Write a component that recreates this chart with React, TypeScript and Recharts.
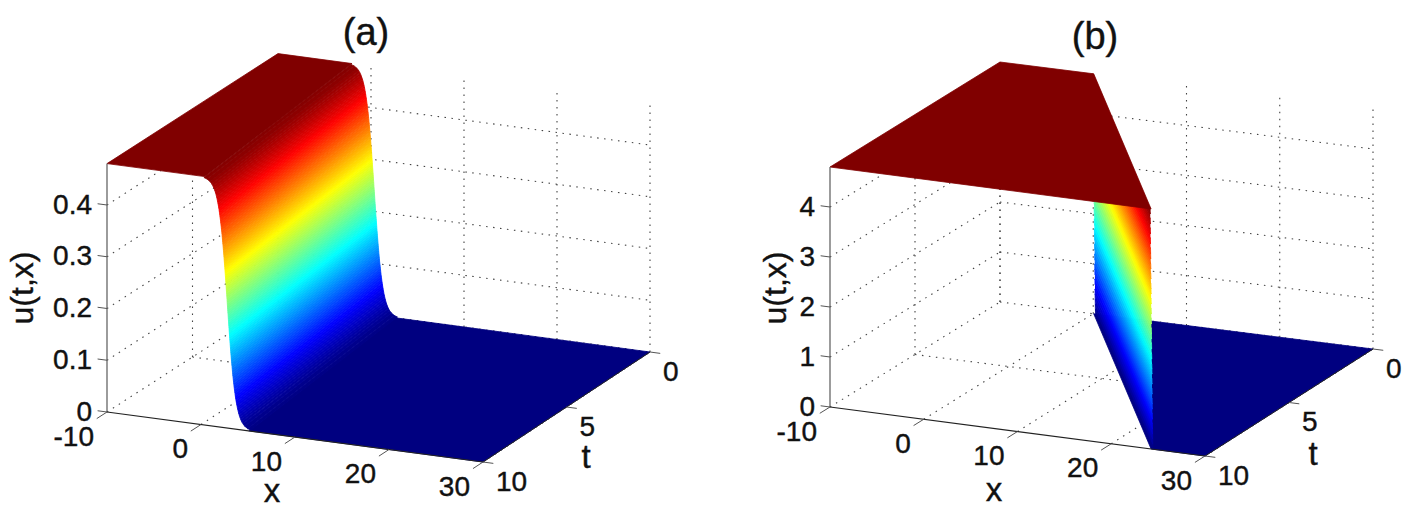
import { ComposedChart, Area, Line, XAxis, YAxis } from 'recharts';

// Tick values shared by both panels
const xTicks = [-10, 0, 10, 20, 30];
const tTicks = [0, 5, 10];

// Panel (a): smooth travelling front
const uTicksA = [0, 0.1, 0.2, 0.3, 0.4];
const frontOffsetA = [
  -2.49, -2.17, -1.85, -1.665, -1.53, -1.425, -1.34, -1.264, -1.2, -1.142, -1.09, -1.042, -1.0, -0.958, -0.92, -0.885,
  -0.85, -0.819, -0.79, -0.759, -0.73, -0.705, -0.68, -0.654, -0.63, -0.607, -0.58, -0.562, -0.54, -0.52, -0.5, -0.479,
  -0.46, -0.441, -0.42, -0.403, -0.385, -0.367, -0.35, -0.332, -0.315, -0.298, -0.28, -0.265, -0.25, -0.232, -0.216, -0.2,
  -0.184, -0.169, -0.153, -0.137, -0.122, -0.107, -0.091, -0.076, -0.06, -0.045, -0.03, -0.015, 0,
  0.015, 0.03, 0.045, 0.06, 0.076, 0.091, 0.107, 0.122, 0.137, 0.153, 0.169, 0.184, 0.2, 0.216, 0.232, 0.25,
  0.265, 0.28, 0.298, 0.315, 0.332, 0.35, 0.367, 0.385, 0.403, 0.42, 0.441, 0.46, 0.479, 0.5, 0.52, 0.54,
  0.562, 0.58, 0.607, 0.63, 0.654, 0.68, 0.705, 0.73, 0.759, 0.79, 0.819, 0.85, 0.885, 0.92, 0.958, 1.0,
  1.042, 1.09, 1.142, 1.2, 1.264, 1.34, 1.425, 1.53, 1.665, 1.85, 2.17, 2.49,
];
const frontValueA = [
  0.478, 0.476, 0.472, 0.468, 0.464, 0.46, 0.456, 0.452, 0.448, 0.444, 0.44, 0.436, 0.432, 0.428, 0.424, 0.42,
  0.416, 0.412, 0.408, 0.404, 0.4, 0.396, 0.392, 0.388, 0.384, 0.38, 0.376, 0.372, 0.368, 0.364, 0.36, 0.356,
  0.352, 0.348, 0.344, 0.34, 0.336, 0.332, 0.328, 0.324, 0.32, 0.316, 0.312, 0.308, 0.304, 0.3, 0.296, 0.292,
  0.288, 0.284, 0.28, 0.276, 0.272, 0.268, 0.264, 0.26, 0.256, 0.252, 0.248, 0.244, 0.24,
  0.236, 0.232, 0.228, 0.224, 0.22, 0.216, 0.212, 0.208, 0.204, 0.2, 0.196, 0.192, 0.188, 0.184, 0.18, 0.176,
  0.172, 0.168, 0.164, 0.16, 0.156, 0.152, 0.148, 0.144, 0.14, 0.136, 0.132, 0.128, 0.124, 0.12, 0.116, 0.112,
  0.108, 0.104, 0.1, 0.096, 0.092, 0.088, 0.084, 0.08, 0.076, 0.072, 0.068, 0.064, 0.06, 0.056, 0.052, 0.048,
  0.044, 0.04, 0.036, 0.032, 0.028, 0.024, 0.02, 0.016, 0.012, 0.008, 0.004, 0.002,
];

// Panel (b): sharp shock, the sheet is almost flat in x
const uTicksB = [0, 1, 2, 3, 4];
const frontOffsetB = [
  -0.1, -0.09, -0.09, -0.08, -0.08, -0.07, -0.07, -0.06, -0.06, -0.05, -0.04, -0.04, -0.03, -0.03, -0.02, -0.02, -0.01,
  0, 0, 0.01, 0.01, 0.02, 0.02, 0.03, 0.03, 0.04, 0.05, 0.05, 0.06, 0.06, 0.07, 0.07, 0.08, 0.09, 0.09,
  0.1, 0.1, 0.11, 0.11, 0.12, 0.13, 0.13, 0.14, 0.14, 0.15, 0.16, 0.17, 0.18, 0.2,
];
const frontValueB = [
  4.8, 4.7, 4.6, 4.5, 4.4, 4.3, 4.2, 4.1, 4.0, 3.9, 3.8, 3.7, 3.6, 3.5, 3.4, 3.3, 3.2,
  3.1, 3.0, 2.9, 2.8, 2.7, 2.6, 2.5, 2.4, 2.3, 2.2, 2.1, 2.0, 1.9, 1.8, 1.7, 1.6, 1.5, 1.4,
  1.3, 1.2, 1.1, 1.0, 0.9, 0.8, 0.7, 0.6, 0.5, 0.4, 0.3, 0.2, 0.1, 0,
];

const FONT = '"Liberation Sans", Arial, sans-serif';

// MATLAB jet colormap
const jet = (v: number) => {
  const clip = (n: number) => Math.round(255 * Math.max(0, Math.min(1, n)));
  const r = clip(Math.min(4 * v - 1.5, -4 * v + 4.5));
  const g = clip(Math.min(4 * v - 0.5, -4 * v + 3.5));
  const b = clip(Math.min(4 * v + 0.5, -4 * v + 2.5));
  return `rgb(${r},${g},${b})`;
};

// turns a convex polygon into the px / [low, high] rows an Area wants
const toRange = (poly: { px: number; py: number }[]) => {
  const xs = [...new Set(poly.map((p) => p.px))].sort((a, b) => a - b);
  return xs.map((px) => {
    const ys: number[] = [];
    poly.forEach((p, i) => {
      const q = poly[(i + 1) % poly.length];
      const lo = Math.min(p.px, q.px);
      const hi = Math.max(p.px, q.px);
      if (px < lo || px > hi) return;
      if (p.px === q.px) ys.push(p.py, q.py);
      else ys.push(p.py + ((px - p.px) / (q.px - p.px)) * (q.py - p.py));
    });
    return { px, range: [Math.min(...ys), Math.max(...ys)] };
  });
};

function Panel({ left, width, cfg }: { left: number; width: number; cfg: any }) {
  const { ox, oy, xs, xr, tNear, tFar, uScale, uMax, uTicks, c0, speed, offset, value, title, titleX, titleY, uLabelX, xLabelX, xLabelY, tLabelX, tLabelY } = cfg;

  // orthographic box projection, the t edge changes slightly along x
  const project = (x: number, t: number, u: number) => {
    const f = (x + 10) / 40;
    const d = (10 - t) / 10;
    return {
      px: ox + (x + 10) * xs + d * (tNear[0] + f * (tFar[0] - tNear[0])),
      py: oy + (x + 10) * xr + d * (tNear[1] + f * (tFar[1] - tNear[1])) - u * uScale,
    };
  };
  const seg = (a: number[], b: number[]) => [project(a[0], a[1], a[2]), project(b[0], b[1], b[2])];

  const grid: any[] = [];
  xTicks.forEach((x) => {
    grid.push(seg([x, 10, 0], [x, 0, 0]));
    grid.push(seg([x, 0, 0], [x, 0, uMax]));
  });
  [0, 5].forEach((t) => {
    grid.push(seg([-10, t, 0], [30, t, 0]));
    grid.push(seg([-10, t, 0], [-10, t, uMax]));
  });
  uTicks.slice(1).forEach((u: number) => {
    grid.push(seg([-10, 10, u], [-10, 0, u]));
    grid.push(seg([-10, 0, u], [30, 0, u]));
  });

  const ticks: any[] = [];
  xTicks.forEach((x) => ticks.push(seg([x, 10, 0], [x, 10.6, 0])));
  tTicks.forEach((t) => ticks.push(seg([30, t, 0], [31.1, t, 0])));
  uTicks.forEach((u: number) => ticks.push(seg([-10, 10, u], [-11, 10, u])));

  // floor first, plateau last, so the plateau hides the top of the sheet
  const strips: { color: string; rows: any[] }[] = [];
  const last = offset.length - 1;
  const front = (i: number, t: number) => c0 + speed * t + offset[i];
  const quad = (x0a: number, x0b: number, x1a: number, x1b: number, ua: number, ub: number) => ({
    color: jet((ua + ub) / 2 / uMax),
    rows: toRange([project(x0a, 0, ua), project(x0b, 0, ub), project(x1b, 10, ub), project(x1a, 10, ua)]),
  });
  // the two flat parts run a little under their neighbours so no seam shows
  strips.push(quad(front(last, 0) - 0.2, 30, front(last, 10) - 0.2, 30, 0, 0));
  for (let i = last; i > 0; i--) {
    strips.push(quad(front(i - 1, 0), front(i, 0), front(i - 1, 10), front(i, 10), value[i - 1], value[i]));
  }
  strips.push(quad(-10, front(0, 0) + 0.1, -10, front(0, 10) + 0.1, uMax, uMax));

  const textDot = (size: number, anchor: string, rotate = false) => (p: any) => (
    <text
      key={p.index}
      x={p.cx}
      y={p.cy}
      fontFamily={FONT}
      fontSize={size}
      fill="#111"
      stroke="#111"
      strokeWidth={0.4}
      textAnchor={anchor}
      dominantBaseline="central"
      transform={rotate ? `rotate(-90 ${p.cx} ${p.cy})` : undefined}
    >
      {p.payload.label}
    </text>
  );

  const xLabels = xTicks.map((x) => {
    const p = project(x, 10, 0);
    return { px: p.px - 13, py: p.py + 24, label: String(x) };
  });
  const tLabels = tTicks.map((t) => {
    const p = project(30, t, 0);
    return { px: p.px + 13, py: p.py + 19, label: String(t) };
  });
  const uLabels = uTicks.map((u: number) => {
    const p = project(-10, 10, u);
    return { px: p.px - 15, py: p.py - 1, label: String(u) };
  });

  return (
    <div style={{ position: 'absolute', left, top: 0, width, height: 508 }}>
      <ComposedChart width={width} height={508} margin={{ top: 0, right: 0, bottom: 0, left: 0 }}>
        <XAxis type="number" dataKey="px" domain={[left, left + width]} hide />
        <YAxis type="number" domain={[0, 508]} reversed hide />
        {grid.map((d, i) => (
          <Line key={`g${i}`} data={d} dataKey="py" stroke="#444" strokeWidth={1.1} strokeDasharray="1.5 5.5" dot={false} activeDot={false} zIndex={50} isAnimationActive={false} />
        ))}
        {strips.map((s, i) => (
          <Area key={`s${i}`} data={s.rows} dataKey="range" type="linear" fill={s.color} fillOpacity={1} stroke={s.color} strokeWidth={0.8} dot={false} activeDot={false} isAnimationActive={false} />
        ))}
        <Line data={seg([-10, 10, 0], [-10, 10, uMax])} dataKey="py" stroke="#666" strokeWidth={1.3} dot={false} activeDot={false} isAnimationActive={false} />
        <Line data={seg([-10, 10, 0], [30, 10, 0])} dataKey="py" stroke="#222" strokeWidth={1.2} dot={false} activeDot={false} isAnimationActive={false} />
        <Line data={seg([30, 10, 0], [30, 0, 0])} dataKey="py" stroke="#222" strokeWidth={1} dot={false} activeDot={false} isAnimationActive={false} />
        {ticks.map((d, i) => (
          <Line key={`t${i}`} data={d} dataKey="py" stroke="#555" strokeWidth={1} dot={false} activeDot={false} isAnimationActive={false} />
        ))}
        <Line data={xLabels} dataKey="py" stroke="none" dot={textDot(28, 'end')} activeDot={false} isAnimationActive={false} />
        <Line data={tLabels} dataKey="py" stroke="none" dot={textDot(28, 'start')} activeDot={false} isAnimationActive={false} />
        <Line data={uLabels} dataKey="py" stroke="none" dot={textDot(28, 'end')} activeDot={false} isAnimationActive={false} />
        <Line data={[{ px: titleX, py: titleY, label: title }]} dataKey="py" stroke="none" dot={textDot(38, 'middle')} activeDot={false} isAnimationActive={false} />
        <Line data={[{ px: xLabelX, py: xLabelY, label: 'x' }]} dataKey="py" stroke="none" dot={textDot(33, 'middle')} activeDot={false} isAnimationActive={false} />
        <Line data={[{ px: tLabelX, py: tLabelY, label: 't' }]} dataKey="py" stroke="none" dot={textDot(33, 'middle')} activeDot={false} isAnimationActive={false} />
        <Line data={[{ px: uLabelX, py: 288, label: 'u(t,x)' }]} dataKey="py" stroke="none" dot={textDot(32, 'middle', true)} activeDot={false} isAnimationActive={false} />
      </ComposedChart>
    </div>
  );
}

const panelA = {
  ox: 107, oy: 412, xs: 9.4, xr: 1.25, tNear: [171, -110], tFar: [167, -110], uScale: 517.5, uMax: 0.48,
  uTicks: uTicksA, c0: 0.35, speed: 0.245, offset: frontOffsetA, value: frontValueA,
  title: '(a)', titleX: 366, titleY: 32, uLabelX: 22, xLabelX: 272, xLabelY: 490, tLabelX: 586, tLabelY: 456,
};
const panelB = {
  ox: 830, oy: 407, xs: 9.375, xr: 1.225, tNear: [170, -105], tFar: [168, -107], uScale: 50, uMax: 4.8,
  uTicks: uTicksB, c0: 0.05, speed: 2.42, offset: frontOffsetB, value: frontValueB,
  title: '(b)', titleX: 1095, titleY: 36, uLabelX: 775, xLabelX: 994, xLabelY: 489, tLabelX: 1313, tLabelY: 453,
};

export default function App() {
  return (
    <div style={{ position: 'absolute', left: 0, top: 0, width: 1411, height: 508, background: '#fff' }}>
      <Panel left={0} width={705} cfg={panelA} />
      <Panel left={705} width={706} cfg={panelB} />
    </div>
  );
}
